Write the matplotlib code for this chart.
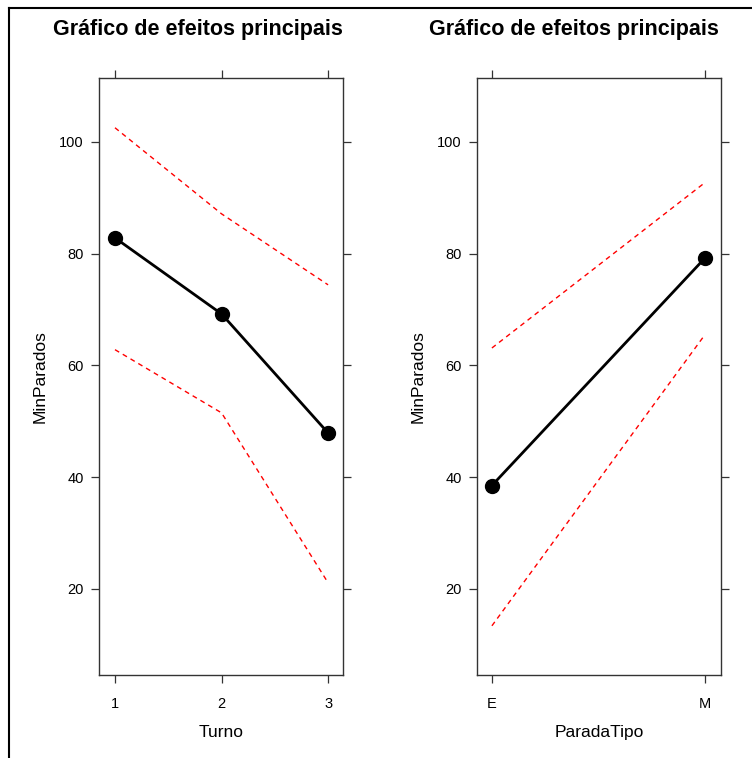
import matplotlib
matplotlib.use("Agg")
import matplotlib.pyplot as plt
from matplotlib.lines import Line2D

plt.rcParams['font.family'] = ['Liberation Sans', 'DejaVu Sans']

# Turno panel
turno_labels = ['1', '2', '3']
turno_mean = [82.8, 69.2, 47.9]
turno_upper = [102.5, 87.1, 74.4]
turno_lower = [62.8, 51.5, 21.1]

# ParadaTipo panel
tipo_labels = ['E', 'M']
tipo_mean = [38.5, 79.2]
tipo_upper = [63.1, 92.7]
tipo_lower = [13.4, 65.5]

W, H = 752, 758
fig = plt.figure(figsize=(W / 100, H / 100), dpi=100)


def px_axes(left, top, right, bottom):
    return fig.add_axes([left / W, 1 - bottom / H, (right - left) / W, (bottom - top) / H])


def panel(ax, labels, mean, upper, lower, xlabel, xlim):
    x = list(range(1, len(labels) + 1))
    ax.plot(x, upper, color='red', lw=1, dashes=(3.5, 3))
    ax.plot(x, lower, color='red', lw=1, dashes=(3.5, 3))
    ax.plot(x, mean, color='black', lw=2, marker='o', markersize=10)
    ax.set_xlim(*xlim)
    ax.set_ylim(4.6, 111.4)
    ax.set_xticks(x)
    ax.set_xticklabels(labels)
    ax.set_yticks([20, 40, 60, 80, 100])
    ax.tick_params(direction='out', length=6, width=0.9, color='#333333',
                   labelsize=10.5, top=True, right=True, labeltop=False, labelright=False)
    ax.tick_params(axis='x', pad=10)
    ax.tick_params(axis='y', pad=5)
    for s in ax.spines.values():
        s.set_color('#333333')
        s.set_linewidth(1.0)
    ax.set_xlabel(xlabel, fontsize=12.5, labelpad=10)
    ax.set_ylabel('MinParados', fontsize=12.5, labelpad=8)


ax1 = px_axes(99, 78, 343, 675)
panel(ax1, turno_labels, turno_mean, turno_upper, turno_lower, 'Turno', (0.85, 3.14))

ax2 = px_axes(477, 78, 721, 675)
panel(ax2, tipo_labels, tipo_mean, tipo_upper, tipo_lower, 'ParadaTipo', (0.93, 2.075))

fig.text(198 / W, 1 - 30 / H, 'Gráfico de efeitos principais', ha='center', va='center',
         fontsize=15.5, fontweight='bold')
fig.text(574 / W, 1 - 30 / H, 'Gráfico de efeitos principais', ha='center', va='center',
         fontsize=15.5, fontweight='bold')

# page frame
fig.add_artist(Line2D([9 / W, 1], [1 - 8 / H, 1 - 8 / H], color='black', lw=1.5))
fig.add_artist(Line2D([9 / W, 9 / W], [1 - 8 / H, 0], color='black', lw=1.5))

fig.savefig('out.png', dpi=100)
